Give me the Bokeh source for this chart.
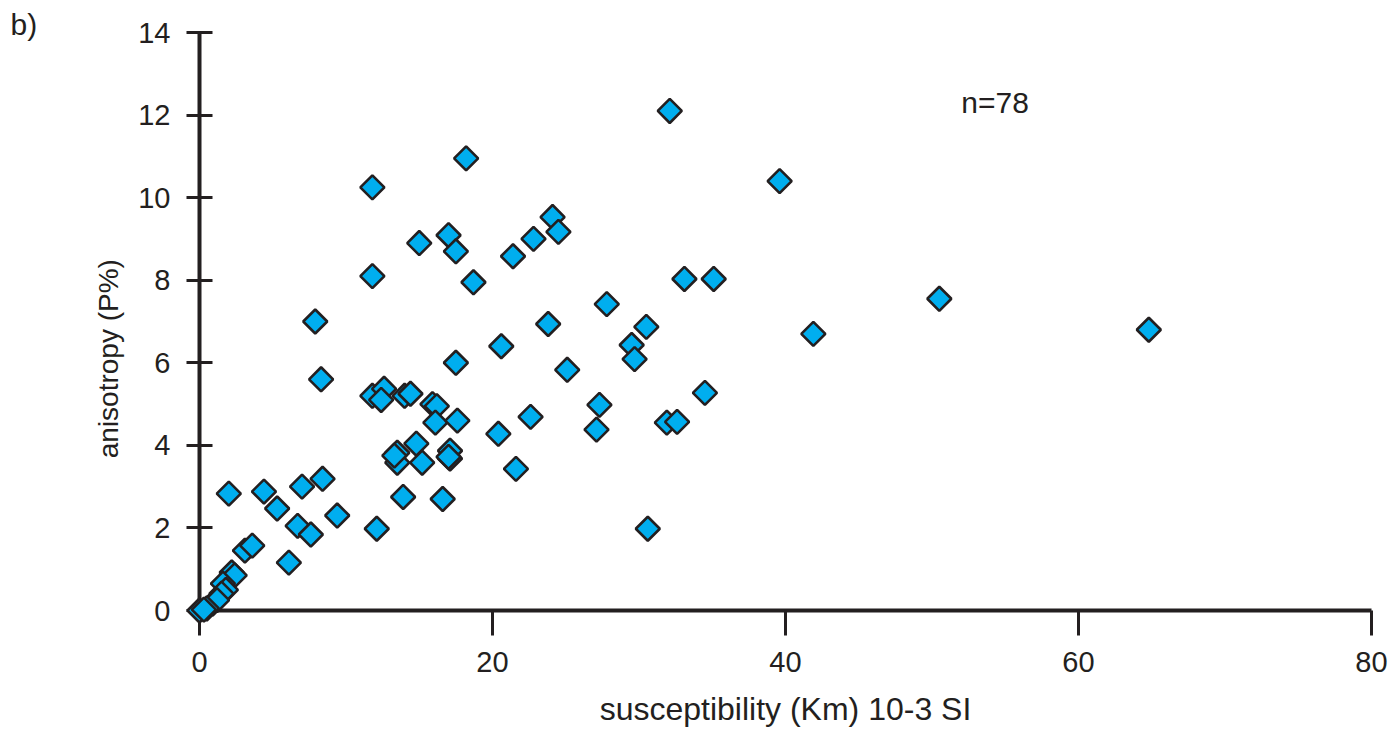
import math
from bokeh.plotting import figure
from bokeh.models import ColumnDataSource, FixedTicker, Range1d
from bokeh.core.properties import value
from bokeh.embed import file_html
from bokeh.resources import INLINE

# susceptibility (Km) 10-3 SI
km = [32.1, 18.2, 11.8, 39.6, 24.1, 24.5, 17.0, 15.0, 22.8, 17.5,
      21.4, 11.8, 18.7, 33.1, 35.1, 7.9, 27.8, 50.5, 64.8, 41.9,
      23.8, 30.5, 20.6, 29.5, 29.7, 17.5, 25.1, 8.3, 11.8, 12.6,
      12.4, 14.0, 14.4, 15.9, 16.2, 16.1, 17.6, 20.4, 22.6, 13.5,
      13.5, 14.8, 15.2, 17.1, 17.1, 21.6, 13.9, 16.6, 12.1, 34.5,
      27.3, 27.1, 31.9, 32.6, 30.6, 2.0, 4.4, 7.0, 8.4, 5.3,
      9.4, 6.7, 7.6, 6.1, 3.1, 3.6, 2.2, 2.4, 1.6, 1.8,
      1.5, 0.9, 1.2, 0.5, 0.0, 0.3, 13.3, 17.0]
# anisotropy (P%)
p_pct = [12.1, 10.95, 10.25, 10.4, 9.53, 9.17, 9.09, 8.9, 9.0, 8.7,
         8.58, 8.1, 7.95, 8.03, 8.03, 7.0, 7.42, 7.55, 6.8, 6.7,
         6.94, 6.87, 6.4, 6.43, 6.09, 6.0, 5.83, 5.6, 5.2, 5.37,
         5.1, 5.2, 5.25, 5.0, 4.95, 4.55, 4.6, 4.28, 4.69, 3.82,
         3.58, 4.04, 3.58, 3.87, 3.68, 3.43, 2.75, 2.7, 1.98, 5.27,
         4.98, 4.38, 4.55, 4.57, 1.98, 2.83, 2.88, 3.0, 3.19, 2.47,
         2.3, 2.05, 1.84, 1.16, 1.45, 1.57, 0.92, 0.85, 0.65, 0.5,
         0.41, 0.17, 0.25, 0.05, 0.0, 0.02, 3.75, 3.72]

x_ticks = [0, 20, 40, 60, 80]
y_ticks = [0, 2, 4, 6, 8, 10, 12, 14]
x_label = "susceptibility (Km) 10-3 SI"
y_label = "anisotropy (P%)"
n_text = "n=78"
panel = "b)"

FONT = "Liberation Sans"
INK = "#231F20"
FILL = "#00AEEF"

p = figure(width=1400, height=730, output_backend="svg", toolbar_location=None,
           x_range=Range1d(0, 80), y_range=Range1d(0, 14),
           min_border_left=199, min_border_right=29,
           min_border_top=32, min_border_bottom=120)
p.outline_line_color = None
p.grid.visible = False
p.background_fill_color = "white"
p.border_fill_color = "white"

src = ColumnDataSource(dict(x=km, y=p_pct))
r = p.scatter("x", "y", source=src, marker="square", size=17, angle=math.pi / 4,
              fill_color=FILL, line_color=INK, line_width=2.6)
r.level = "overlay"

xa = p.xaxis[0]
xa.ticker = FixedTicker(ticks=x_ticks)
xa.minor_tick_line_color = None
xa.major_tick_in = 0
xa.major_tick_out = 25
xa.major_tick_line_width = 3
xa.major_tick_line_color = INK
xa.axis_line_width = 4
xa.axis_line_color = INK
xa.major_label_text_font = FONT
xa.major_label_text_font_size = "29px"
xa.major_label_text_color = INK
xa.major_label_standoff = 16
xa.axis_label = x_label
xa.axis_label_text_font = FONT
xa.axis_label_text_font_size = "32px"
xa.axis_label_text_font_style = "normal"
xa.axis_label_text_color = INK
xa.axis_label_standoff = 16

ya = p.yaxis[0]
ya.ticker = FixedTicker(ticks=y_ticks)
ya.minor_tick_line_color = None
ya.major_tick_in = 13
ya.major_tick_out = 13
ya.major_tick_line_width = 3
ya.major_tick_line_color = INK
ya.axis_line_width = 4
ya.axis_line_color = INK
ya.major_label_text_font = FONT
ya.major_label_text_font_size = "29px"
ya.major_label_text_color = INK
ya.major_label_standoff = 16

# free texts: y-axis title, count, panel letter
t1 = p.text(x=[-6.2], y=[6.1], text=[y_label], angle=math.pi / 2,
            text_align="center", text_baseline="middle",
            text_font=value(FONT), text_font_size="28px", text_color=INK)
t1.level = "overlay"
t2 = p.text(x=[52.0], y=[12.3], text=[n_text], text_align="left",
            text_baseline="middle", text_font=value(FONT),
            text_font_size="30px", text_color=INK)
t2.level = "overlay"
t3 = p.text(x=[-12.9], y=[14.6], text=[panel], text_align="left",
            text_baseline="top", text_font=value(FONT),
            text_font_size="30px", text_color=INK)
t3.level = "overlay"

open("out.html", "w").write(file_html(p, INLINE))
